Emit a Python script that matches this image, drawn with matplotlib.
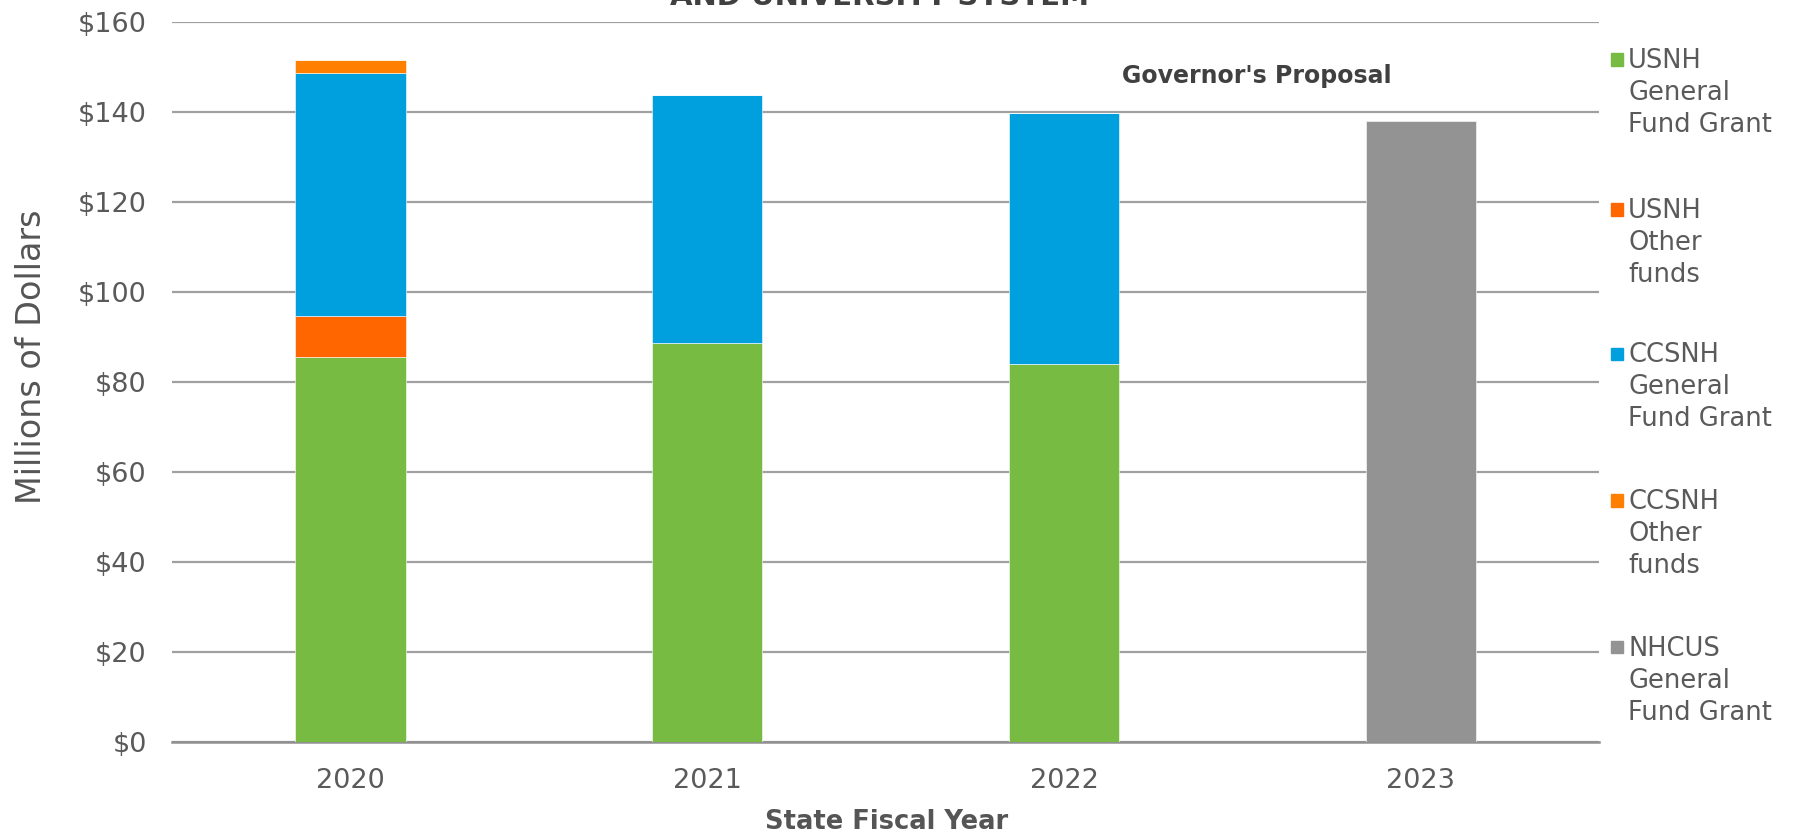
import matplotlib
matplotlib.use("Agg")
import matplotlib.pyplot as plt
from matplotlib.patches import Rectangle
import numpy as np

plt.rcParams['font.family'] = ['DejaVu Sans']

years = ["2020", "2021", "2022", "2023"]
usnh_gf = [85.5, 88.5, 84.0, 0]
usnh_other = [9.0, 0, 0, 0]
ccsnh_gf = [54.1, 55.2, 55.8, 0]
ccsnh_other = [2.9, 0, 0, 0]
nhcus_gf = [0, 0, 0, 138.0]

series_labels = ["USNH\nGeneral\nFund Grant", "USNH\nOther\nfunds",
                 "CCSNH\nGeneral\nFund Grant", "CCSNH\nOther\nfunds",
                 "NHCUS\nGeneral\nFund Grant"]
series = [usnh_gf, usnh_other, ccsnh_gf, ccsnh_other, nhcus_gf]
colors = ["#78BB43", "#FF6600", "#00A0DE", "#FF8000", "#939393"]
yticks = [0, 20, 40, 60, 80, 100, 120, 140, 160]

fig = plt.figure(figsize=(17.95, 8.34), dpi=100)
ax = fig.add_axes([0.0957, 0.1106, 0.7953, 0.8634])

x = np.arange(len(years))
bottom = np.zeros(len(years))
for vals, col, lab in zip(series, colors, series_labels):
    v = np.array(vals, dtype=float)
    ax.bar(x, v, width=0.31, bottom=bottom, color=col, edgecolor="white",
           linewidth=0.4, zorder=3, label=lab)
    bottom += v

ax.set_xlim(-0.5, 3.5)
ax.set_ylim(0, 160)
ax.set_yticks(yticks)
ax.set_yticklabels([f"${t}" for t in yticks])
ax.set_xticks(x)
ax.set_xticklabels(years)
ax.grid(axis="y", color="#A0A0A0", linewidth=1.6, zorder=0)
ax.set_axisbelow(True)
for s in ["top", "right", "left"]:
    ax.spines[s].set_visible(False)
ax.spines["bottom"].set_color("#909090")
ax.spines["bottom"].set_linewidth(1.8)
ax.tick_params(axis="y", length=0, pad=18, labelsize=19.5, labelcolor="#5A5A5A")
ax.tick_params(axis="x", length=0, pad=19, labelsize=19.5, labelcolor="#5A5A5A")

ax.set_ylabel("Millions of Dollars", fontsize=24, color="#555555")
ax.yaxis.set_label_coords(-0.0986, 0.535)
ax.yaxis.label.set_va("center")
ax.set_xlabel("State Fiscal Year", fontsize=18.5, color="#555555", fontweight="bold")
ax.xaxis.set_label_coords(0.501, -0.111)
ax.xaxis.label.set_va("center")

ax.text(2.54, 148, "Governor's Proposal", fontsize=17, color="#404040",
        fontweight="bold", ha="center", va="center")

# clipped title at top
fig.text(0.49, 0.9945, "AND UNIVERSITY SYSTEM", fontsize=21, color="#404040",
         fontweight="bold", ha="center", va="baseline")

# manual legend
leg_y = [0.9287, 0.7488, 0.5759, 0.4001, 0.2244]
for yy, col, lab in zip(leg_y, colors, series_labels):
    fig.patches.append(Rectangle((0.8975, yy - 0.0075), 0.0068, 0.0148,
                                 transform=fig.transFigure, color=col))
    fig.text(0.907, yy + 0.0135, lab, fontsize=18.5, color="#5A5A5A",
             ha="left", va="top", linespacing=1.3)

fig.savefig("out.png", dpi=100)
